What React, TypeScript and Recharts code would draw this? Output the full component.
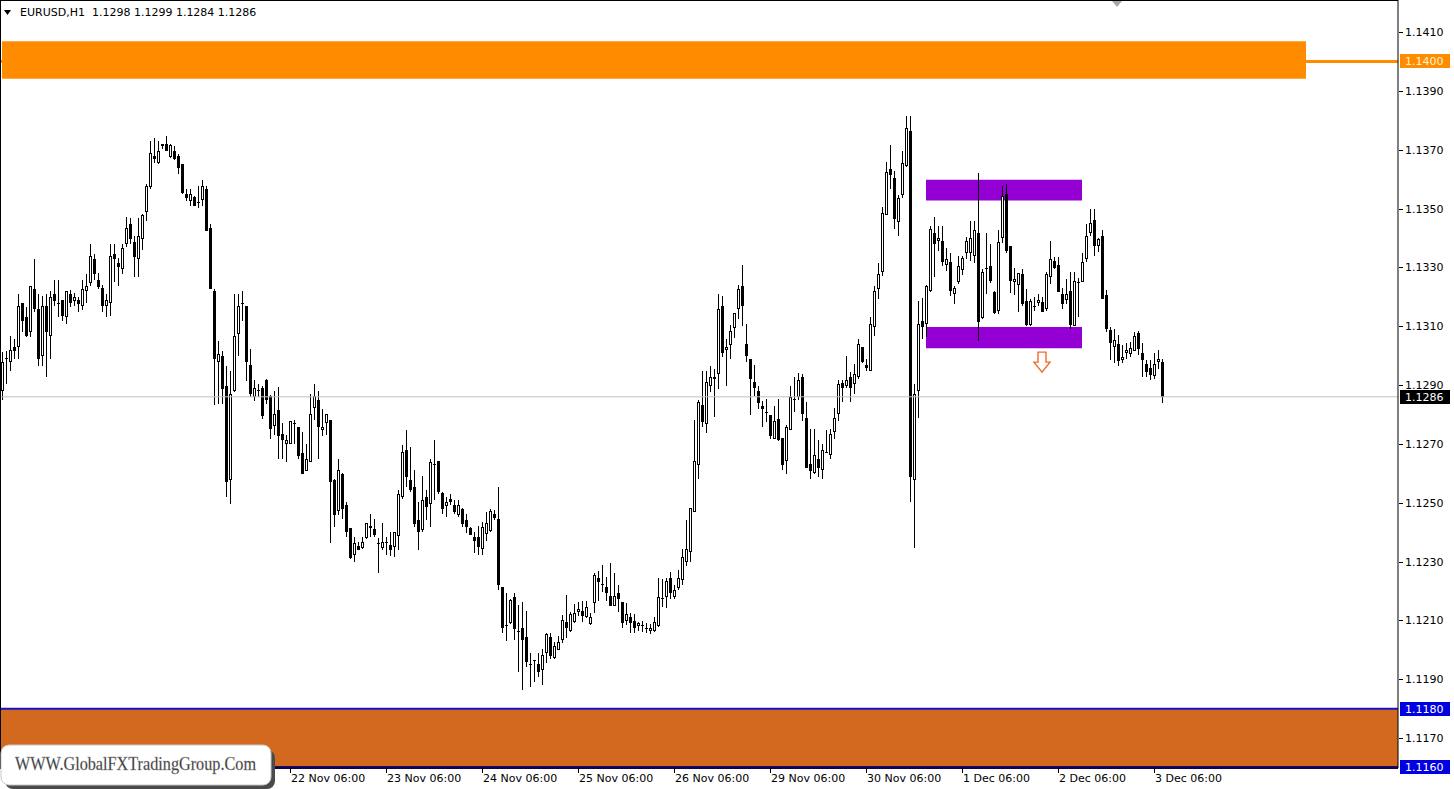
import React from 'react';
import {
  ComposedChart,
  Bar,
  XAxis,
  YAxis,
  ReferenceArea,
  ReferenceLine,
  ReferenceDot,
} from 'recharts';

// EURUSD H1 candles, one per hour (index 0 = left edge)
const openPrices = [
  1.12881, 1.1299, 1.12977, 1.13031, 1.13031, 1.13178, 1.1313, 1.13079, 1.13226, 1.13158,
  1.12999, 1.13169, 1.13068, 1.13209, 1.13178, 1.13189, 1.1313, 1.13209, 1.13186, 1.13189,
  1.13169, 1.13219, 1.13246, 1.13329, 1.13258, 1.1323, 1.13169, 1.13178, 1.13346, 1.13315,
  1.13294, 1.13379, 1.13447, 1.13386, 1.13328, 1.13396, 1.13488, 1.13573, 1.13678, 1.13655,
  1.13712, 1.13719, 1.13675, 1.13697, 1.13679, 1.1365, 1.13551, 1.13526, 1.13539, 1.1352,
  1.1353, 1.13565, 1.13435, 1.1322, 1.12977, 1.12999, 1.12898, 1.12576, 1.12881, 1.13075,
  1.13178, 1.13169, 1.12969, 1.12859, 1.12881, 1.1289, 1.12918, 1.12864, 1.1276, 1.12814,
  1.12735, 1.12701, 1.12701, 1.1277, 1.12756, 1.12668, 1.12609, 1.12638, 1.12822, 1.1285,
  1.12748, 1.1277, 1.1278, 1.12578, 1.12472, 1.12598, 1.12492, 1.12413, 1.12322, 1.12353,
  1.12346, 1.12379, 1.12413, 1.1241, 1.12362, 1.12346, 1.12365, 1.12356, 1.12349, 1.12387,
  1.1252, 1.1268, 1.12578, 1.12553, 1.12441, 1.12407, 1.1252, 1.12495, 1.1263, 1.12641,
  1.12534, 1.12488, 1.12514, 1.12492, 1.12458, 1.1248, 1.12441, 1.12413, 1.12384, 1.12384,
  1.12342, 1.12395, 1.12404, 1.1246, 1.12443, 1.12214, 1.12084, 1.1209, 1.12181, 1.12063,
  1.12073, 1.12043, 1.11953, 1.11964, 1.11952, 1.11932, 1.1199, 1.12043, 1.11972, 1.12,
  1.12032, 1.12093, 1.12063, 1.12093, 1.12128, 1.12132, 1.12113, 1.12089, 1.12158, 1.12245,
  1.12223, 1.12214, 1.12184, 1.1215, 1.12192, 1.12162, 1.12098, 1.1211, 1.12098, 1.12082,
  1.12085, 1.12073, 1.12064, 1.12064, 1.12082, 1.12176, 1.12181, 1.12243, 1.12181, 1.12209,
  1.12236, 1.123, 1.12331, 1.12469, 1.12627, 1.12833, 1.12768, 1.12898, 1.12919, 1.12936,
  1.13169, 1.1302, 1.13036, 1.13095, 1.13158, 1.13237, 1.1304, 1.12989, 1.12911, 1.12881,
  1.1283, 1.12808, 1.12797, 1.12717, 1.12786, 1.12719, 1.12641, 1.12747, 1.1285, 1.12861,
  1.12929, 1.12789, 1.1263, 1.126, 1.12649, 1.1261, 1.12672, 1.12661, 1.1274, 1.128,
  1.12906, 1.12898, 1.12926, 1.12902, 1.12929, 1.13029, 1.12969, 1.12948, 1.13097, 1.13226,
  1.13284, 1.13478, 1.13636, 1.13603, 1.13455, 1.13546, 1.13644, 1.13762, 1.12578, 1.12879,
  1.13119, 1.13106, 1.13218, 1.13418, 1.1339, 1.1339, 1.13307, 1.13317, 1.13209, 1.13249,
  1.13292, 1.13348, 1.13348, 1.1334, 1.13418, 1.13127, 1.13297, 1.13306, 1.13217, 1.13153,
  1.13401, 1.1355, 1.13373, 1.1325, 1.1324, 1.13278, 1.13184, 1.13103, 1.1317, 1.1318,
  1.13183, 1.13158, 1.13266, 1.1332, 1.13307, 1.13209, 1.13189, 1.13218, 1.13102, 1.1325,
  1.1325, 1.13327, 1.13418, 1.1346, 1.13373, 1.13407, 1.13205, 1.13087, 1.13029, 1.13038,
  1.12985, 1.13008, 1.13005, 1.13016, 1.13077, 1.13008, 1.12972, 1.12958, 1.12931, 1.12977,
  1.1298,
];

const highPrices = [
  1.13011, 1.13017, 1.13068, 1.13055, 1.13209, 1.1318, 1.13164, 1.13236, 1.13327, 1.13209,
  1.13202, 1.13209, 1.13219, 1.13257, 1.13257, 1.1319, 1.1322, 1.13223, 1.13212, 1.13198,
  1.13257, 1.13278, 1.13379, 1.13346, 1.1328, 1.13239, 1.13209, 1.13379, 1.13381, 1.13332,
  1.13379, 1.13471, 1.13467, 1.13407, 1.13467, 1.13483, 1.13583, 1.13729, 1.1374, 1.13729,
  1.13719, 1.13745, 1.13721, 1.13712, 1.13686, 1.13651, 1.13565, 1.13565, 1.13541, 1.13576,
  1.13596, 1.13576, 1.13447, 1.13226, 1.1305, 1.13017, 1.12966, 1.12949, 1.13209, 1.13209,
  1.1322, 1.1317, 1.13023, 1.12918, 1.12904, 1.12898, 1.1292, 1.12865, 1.12881, 1.12893,
  1.12771, 1.12729, 1.12778, 1.12781, 1.12757, 1.1274, 1.127, 1.1287, 1.12902, 1.12881,
  1.12819, 1.12801, 1.12781, 1.1258, 1.1265, 1.126, 1.12503, 1.12414, 1.12384, 1.12367,
  1.12384, 1.12432, 1.12463, 1.12446, 1.12379, 1.1243, 1.12384, 1.12401, 1.12401, 1.12542,
  1.12695, 1.12748, 1.12689, 1.1261, 1.12503, 1.1259, 1.12542, 1.1265, 1.12712, 1.12642,
  1.12535, 1.1252, 1.12531, 1.12508, 1.12508, 1.12482, 1.12463, 1.12416, 1.12401, 1.1242,
  1.12435, 1.12469, 1.1248, 1.12475, 1.12553, 1.12215, 1.12192, 1.12172, 1.12192, 1.12152,
  1.12163, 1.12133, 1.11989, 1.11966, 1.11989, 1.12002, 1.12058, 1.12056, 1.12027, 1.12047,
  1.12118, 1.12186, 1.1213, 1.12155, 1.12162, 1.12165, 1.12165, 1.12124, 1.1226, 1.12268,
  1.12287, 1.12248, 1.12294, 1.1226, 1.1222, 1.12163, 1.1216, 1.12124, 1.12121, 1.12096,
  1.12099, 1.1209, 1.12087, 1.12113, 1.12245, 1.1224, 1.12245, 1.12266, 1.1222, 1.12271,
  1.12342, 1.12441, 1.12483, 1.1278, 1.12848, 1.12949, 1.12949, 1.12966, 1.12955, 1.13209,
  1.13203, 1.13056, 1.13104, 1.13146, 1.1324, 1.13307, 1.13108, 1.1299, 1.12968, 1.12898,
  1.12847, 1.12851, 1.12798, 1.1283, 1.12851, 1.1272, 1.12763, 1.12898, 1.12929, 1.1294,
  1.12938, 1.12842, 1.12751, 1.12751, 1.12712, 1.127, 1.12748, 1.12752, 1.12823, 1.12918,
  1.12918, 1.12999, 1.12946, 1.12972, 1.13056, 1.1303, 1.12989, 1.13131, 1.13237, 1.13316,
  1.13505, 1.13659, 1.13715, 1.13626, 1.13547, 1.13697, 1.13814, 1.13814, 1.12904, 1.13186,
  1.13197, 1.1324, 1.1344, 1.13471, 1.1344, 1.1344, 1.13365, 1.13348, 1.13237, 1.13338,
  1.13339, 1.13404, 1.13456, 1.13456, 1.13621, 1.13296, 1.13418, 1.13381, 1.13218, 1.13428,
  1.13576, 1.13584, 1.13374, 1.13297, 1.13281, 1.13294, 1.13226, 1.13192, 1.13198, 1.13211,
  1.13198, 1.13285, 1.13388, 1.13334, 1.13334, 1.13229, 1.1326, 1.13285, 1.13285, 1.13263,
  1.13348, 1.13449, 1.13498, 1.135, 1.134, 1.13428, 1.13224, 1.13098, 1.1309, 1.13069,
  1.13036, 1.13042, 1.13048, 1.13079, 1.13085, 1.13043, 1.12985, 1.12986, 1.13009, 1.13019,
  1.1299,
];

const lowPrices = [
  1.1285, 1.12905, 1.12949, 1.1299, 1.12989, 1.13079, 1.13062, 1.13062, 1.13147, 1.12966,
  1.12966, 1.12926, 1.1299, 1.13169, 1.1313, 1.13116, 1.13108, 1.13164, 1.13169, 1.13147,
  1.13155, 1.13178, 1.13237, 1.13257, 1.13226, 1.13147, 1.1313, 1.13136, 1.13249, 1.13237,
  1.13276, 1.13368, 1.13379, 1.13268, 1.13266, 1.13358, 1.13459, 1.13567, 1.13655, 1.1365,
  1.13704, 1.13696, 1.13673, 1.13664, 1.13616, 1.1355, 1.13526, 1.13509, 1.13508, 1.13503,
  1.13509, 1.13423, 1.13225, 1.12831, 1.12836, 1.12836, 1.12519, 1.12497, 1.12876, 1.12999,
  1.13116, 1.12915, 1.12859, 1.12847, 1.12859, 1.12785, 1.12836, 1.12715, 1.1273, 1.1265,
  1.1265, 1.12638, 1.12699, 1.12701, 1.12649, 1.12597, 1.12608, 1.12637, 1.12782, 1.1265,
  1.12726, 1.12729, 1.12362, 1.12418, 1.12458, 1.12446, 1.12384, 1.1231, 1.12299, 1.12339,
  1.12343, 1.12378, 1.12383, 1.12384, 1.1226, 1.12339, 1.12322, 1.12319, 1.12316, 1.12339,
  1.12514, 1.12553, 1.12537, 1.12418, 1.12339, 1.12401, 1.12441, 1.12418, 1.12508, 1.12531,
  1.12463, 1.12452, 1.12491, 1.12463, 1.12452, 1.12418, 1.12398, 1.12389, 1.12328, 1.12322,
  1.12322, 1.1237, 1.12401, 1.12441, 1.12203, 1.12056, 1.1203, 1.12089, 1.12033, 1.11923,
  1.11864, 1.11943, 1.11873, 1.11892, 1.11909, 1.11881, 1.11954, 1.11968, 1.11968, 1.11999,
  1.12024, 1.1204, 1.12062, 1.12092, 1.12115, 1.12093, 1.12109, 1.12084, 1.12124, 1.12165,
  1.12196, 1.12165, 1.12149, 1.12149, 1.12127, 1.12073, 1.12085, 1.12056, 1.12056, 1.12064,
  1.12062, 1.12056, 1.12053, 1.12062, 1.12079, 1.12144, 1.12143, 1.12173, 1.12173, 1.12203,
  1.1222, 1.12284, 1.123, 1.12468, 1.1258, 1.12757, 1.12737, 1.12875, 1.1279, 1.12885,
  1.12994, 1.12896, 1.12989, 1.13061, 1.13124, 1.131, 1.12977, 1.12797, 1.12862, 1.12818,
  1.12757, 1.12773, 1.12717, 1.12716, 1.12711, 1.1261, 1.12598, 1.12746, 1.12808, 1.1285,
  1.12777, 1.12618, 1.12579, 1.12597, 1.12588, 1.12579, 1.12669, 1.1265, 1.12718, 1.12777,
  1.12842, 1.1289, 1.12842, 1.1287, 1.12921, 1.12976, 1.12947, 1.12947, 1.13068, 1.13192,
  1.13271, 1.13477, 1.13565, 1.13431, 1.13406, 1.13536, 1.13641, 1.12502, 1.12345, 1.12789,
  1.13058, 1.13062, 1.13215, 1.13266, 1.13356, 1.13306, 1.13287, 1.13204, 1.13174, 1.13243,
  1.13273, 1.13327, 1.13323, 1.13314, 1.13051, 1.13126, 1.13208, 1.13248, 1.13142, 1.13142,
  1.13384, 1.1335, 1.13213, 1.13205, 1.13149, 1.13168, 1.131, 1.13102, 1.13152, 1.13169,
  1.13148, 1.13152, 1.13243, 1.13294, 1.13216, 1.13158, 1.13177, 1.13089, 1.131, 1.1313,
  1.13249, 1.13317, 1.13407, 1.1334, 1.13353, 1.13192, 1.13081, 1.12986, 1.12975, 1.12965,
  1.12975, 1.12989, 1.12995, 1.13015, 1.13003, 1.12929, 1.12929, 1.12916, 1.12921, 1.12955,
  1.1284,
];

const closePrices = [
  1.12977, 1.12992, 1.13019, 1.13017, 1.13169, 1.13116, 1.13068, 1.13235, 1.13158, 1.12989,
  1.13169, 1.13079, 1.13199, 1.13186, 1.1318, 1.13136, 1.13219, 1.13178, 1.13199, 1.13177,
  1.13226, 1.13237, 1.13339, 1.13276, 1.13233, 1.13168, 1.13189, 1.13339, 1.13327, 1.13302,
  1.13366, 1.13435, 1.13396, 1.13336, 1.13407, 1.13478, 1.13578, 1.13689, 1.13667, 1.13697,
  1.13719, 1.13697, 1.13715, 1.13667, 1.13638, 1.13554, 1.13537, 1.13551, 1.13509, 1.13522,
  1.13578, 1.13424, 1.13226, 1.12989, 1.13007, 1.12886, 1.1257, 1.1287, 1.13068, 1.13169,
  1.1318, 1.12977, 1.12868, 1.1289, 1.12882, 1.12796, 1.12848, 1.12749, 1.12803, 1.12726,
  1.12712, 1.12712, 1.12777, 1.12768, 1.1266, 1.12598, 1.12649, 1.128, 1.12864, 1.12757,
  1.12758, 1.128, 1.12571, 1.12458, 1.1261, 1.1248, 1.12401, 1.12311, 1.12362, 1.12341,
  1.12367, 1.12431, 1.1242, 1.1239, 1.1236, 1.12367, 1.12363, 1.12339, 1.124, 1.12531,
  1.12672, 1.12587, 1.12542, 1.12429, 1.12401, 1.12509, 1.12486, 1.12638, 1.12633, 1.12537,
  1.1248, 1.12503, 1.12503, 1.12469, 1.12492, 1.12427, 1.12416, 1.1239, 1.1237, 1.1235,
  1.12418, 1.12431, 1.12472, 1.12449, 1.1222, 1.12073, 1.12082, 1.12171, 1.1207, 1.12062,
  1.12032, 1.1196, 1.11952, 1.11961, 1.11926, 1.11983, 1.12053, 1.1198, 1.12013, 1.12025,
  1.12102, 1.12073, 1.12122, 1.12124, 1.1214, 1.12116, 1.12144, 1.12112, 1.12254, 1.12229,
  1.1222, 1.12192, 1.1215, 1.12184, 1.12173, 1.1209, 1.12121, 1.1209, 1.12073, 1.1209,
  1.12084, 1.12072, 1.12073, 1.12093, 1.12181, 1.12175, 1.12234, 1.12192, 1.12204, 1.12243,
  1.12317, 1.12342, 1.12482, 1.12641, 1.12841, 1.12776, 1.12912, 1.12929, 1.12929, 1.13159,
  1.13009, 1.13031, 1.13085, 1.13145, 1.13228, 1.13169, 1.13, 1.12919, 1.12889, 1.1284,
  1.12819, 1.12806, 1.12726, 1.12777, 1.12712, 1.12629, 1.12756, 1.12861, 1.12851, 1.12917,
  1.128, 1.12619, 1.12608, 1.12661, 1.12619, 1.1268, 1.1267, 1.12732, 1.12789, 1.12902,
  1.1289, 1.12917, 1.1289, 1.12938, 1.1304, 1.12977, 1.12958, 1.13108, 1.1322, 1.13277,
  1.13486, 1.13624, 1.13613, 1.13463, 1.13536, 1.13655, 1.13773, 1.12587, 1.1287, 1.13109,
  1.13096, 1.13237, 1.13429, 1.13381, 1.13401, 1.13317, 1.13327, 1.13218, 1.13229, 1.13306,
  1.13331, 1.1339, 1.13401, 1.13428, 1.13113, 1.13285, 1.13296, 1.13252, 1.13145, 1.13387,
  1.13542, 1.13356, 1.13253, 1.1326, 1.1328, 1.13174, 1.13105, 1.13184, 1.13169, 1.13189,
  1.13149, 1.13277, 1.13328, 1.13298, 1.13217, 1.13177, 1.13209, 1.13105, 1.13254, 1.13248,
  1.13317, 1.13406, 1.13452, 1.13373, 1.13396, 1.13193, 1.13089, 1.13042, 1.13052, 1.12982,
  1.12996, 1.1302, 1.13025, 1.13068, 1.13023, 1.12985, 1.12946, 1.12935, 1.12972, 1.12988,
  1.1286,
];

// time axis: bar index of each visible "DD Mon 06:00" label
const dayTicks = [72, 96, 120, 144, 168, 192, 216, 240, 264, 288];
const dayLabels = [
  '22 Nov 06:00', '23 Nov 06:00', '24 Nov 06:00', '25 Nov 06:00', '26 Nov 06:00',
  '29 Nov 06:00', '30 Nov 06:00', '1 Dec 06:00', '2 Dec 06:00', '3 Dec 06:00',
];
const priceTicks = [1.117, 1.119, 1.121, 1.123, 1.125, 1.127, 1.129, 1.131, 1.133, 1.135, 1.137, 1.139, 1.141];

const symbolName = 'EURUSD,H1';
const lastOhlc = [1.1298, 1.1299, 1.1284, 1.1286];

// drawn objects
const resistanceZone = [1.13941, 1.14069];
const resistanceLevel = 1.14;
const supportZone = [1.116, 1.118];
const rangeHigh = [1.13527, 1.13598];
const rangeLow = [1.13025, 1.13097];
const rangeBars = [231, 270];
const resistanceEndBar = 326;
const signalBar = 260;
const signalPrice = 1.12978;
const bidPrice = 1.1286;

const X_DOMAIN: [number, number] = [-0.5, 349];
const Y_DOMAIN: [number, number] = [1.115983, 1.142088];
const PLOT_W = 1398;
const PLOT_H = 768;
const AXIS_FONT = '"DejaVu Sans", Tahoma, sans-serif';

const candles = openPrices.map((open, i) => {
  const close = closePrices[i];
  return {
    i,
    open,
    close,
    high: Math.max(highPrices[i], open, close),
    low: Math.min(lowPrices[i], open, close),
  };
});

const Candle = (props: any) => {
  const { x, y, width, height, payload } = props;
  if (x == null || !payload) return null;
  const top = Math.min(y, y + height);
  const h = Math.abs(height);
  const { open, close, high, low } = payload;
  const span = high - low || 1e-9;
  const py = (p: number) => top + ((high - p) / span) * h;
  const cx = Math.round(x + width / 2);
  const yo = py(open);
  const yc = py(close);
  const bTop = Math.round(Math.min(yo, yc));
  const bBot = Math.round(Math.max(yo, yc));
  const wTop = Math.round(top);
  const wBot = Math.max(Math.round(top + h), wTop + 1);
  const up = close >= open;
  let body;
  if (bBot - bTop < 2) {
    body = <line x1={cx - 1} x2={cx + 2} y1={bTop + 0.5} y2={bTop + 0.5} stroke="#000" />;
  } else if (up) {
    body = (
      <rect x={cx - 0.5} y={bTop + 0.5} width={2} height={bBot - bTop - 1} fill="#fff" stroke="#000" strokeWidth={1} />
    );
  } else {
    body = <rect x={cx - 1} y={bTop} width={3} height={bBot - bTop} fill="#000" />;
  }
  return (
    <g>
      <line x1={cx + 0.5} x2={cx + 0.5} y1={wTop} y2={wBot} stroke="#000" />
      {body}
    </g>
  );
};

const TimeTick = (props: any) => {
  const { x, payload } = props;
  const label = dayLabels[dayTicks.indexOf(payload.value)];
  return (
    <g>
      <line x1={x + 0.5} x2={x + 0.5} y1={PLOT_H} y2={PLOT_H + 5} stroke="#000" />
      <text x={x + 1} y={PLOT_H + 14} fontSize={11} fontFamily={AXIS_FONT} fill="#000" textAnchor="start">
        {label}
      </text>
    </g>
  );
};

const PriceTick = (props: any) => {
  const { y, payload } = props;
  return (
    <g>
      <line x1={PLOT_W + 1} x2={PLOT_W + 5} y1={Math.round(y) + 0.5} y2={Math.round(y) + 0.5} stroke="#000" />
      <text x={PLOT_W + 7} y={y + 4} fontSize={11} fontFamily={AXIS_FONT} fill="#000" textAnchor="start">
        {payload.value.toFixed(4)}
      </text>
    </g>
  );
};

const priceTag = (value: number, bg: string, fg: string) => (props: any) => {
  const { cx, cy } = props;
  if (cx == null || cy == null) return <g />;
  return (
    <g>
      <rect x={cx + 2} y={Math.round(cy) - 7} width={50} height={14} fill={bg} />
      <text x={cx + 7} y={Math.round(cy) + 4} fontSize={11} fontFamily={AXIS_FONT} fill={fg}>
        {value.toFixed(4)}
      </text>
    </g>
  );
};

const SignalArrow = (props: any) => {
  const { cx, cy } = props;
  if (cx == null || cy == null) return <g />;
  const d = `M${cx - 4} ${cy - 10} L${cx + 4} ${cy - 10} L${cx + 4} ${cy} L${cx + 8} ${cy} L${cx} ${cy + 10} L${cx - 8} ${cy} L${cx - 4} ${cy} Z`;
  return <path d={d} fill="#fff" stroke="#F26B2A" strokeWidth={1.4} />;
};

export default function App() {
  return (
    <div style={{ position: 'absolute', left: 0, top: 0, width: 1454, height: 789, background: '#fff', overflow: 'hidden' }}>
      <ComposedChart width={1454} height={789} data={candles} margin={{ top: 0, right: 0, bottom: 0, left: 0 }}>
        <XAxis
          dataKey="i"
          type="number"
          domain={X_DOMAIN}
          allowDataOverflow
          ticks={dayTicks}
          interval={0}
          height={21}
          axisLine={{ stroke: '#000' }}
          tickLine={false}
          tick={<TimeTick />}
        />
        <YAxis
          orientation="right"
          type="number"
          domain={Y_DOMAIN}
          allowDataOverflow
          ticks={priceTicks}
          interval={0}
          width={56}
          axisLine={{ stroke: '#000' }}
          tickLine={false}
          tick={<PriceTick />}
        />
        <ReferenceArea x1={X_DOMAIN[0]} x2={X_DOMAIN[1]} y1={supportZone[0]} y2={supportZone[1]} fill="#D2691E" fillOpacity={1} stroke="none" />
        <ReferenceLine y={resistanceLevel} stroke="#FF8C00" strokeWidth={3} />
        <ReferenceArea x1={0} x2={resistanceEndBar} y1={resistanceZone[0]} y2={resistanceZone[1]} fill="#FF8C00" fillOpacity={1} stroke="none" />
        <ReferenceArea x1={rangeBars[0]} x2={rangeBars[1]} y1={rangeHigh[0]} y2={rangeHigh[1]} fill="#9400D3" fillOpacity={1} stroke="none" />
        <ReferenceArea x1={rangeBars[0]} x2={rangeBars[1]} y1={rangeLow[0]} y2={rangeLow[1]} fill="#9400D3" fillOpacity={1} stroke="none" />
        <ReferenceLine y={bidPrice} stroke="#C0C0C0" strokeWidth={1} />
        <ReferenceLine y={supportZone[1]} stroke="#1414C8" strokeWidth={2} />
        <ReferenceLine y={supportZone[0]} stroke="#1a0a80" strokeWidth={3} />
        <Bar dataKey={(d: any) => [d.low, d.high]} shape={Candle} barSize={4} isAnimationActive={false} />
        <ReferenceDot x={signalBar} y={signalPrice} r={8} shape={SignalArrow} />
        <ReferenceDot x={X_DOMAIN[1]} y={resistanceLevel} r={1} shape={priceTag(resistanceLevel, '#FF8C00', '#FFF1D0')} />
        <ReferenceDot x={X_DOMAIN[1]} y={bidPrice} r={1} shape={priceTag(bidPrice, '#000', '#fff')} />
        <ReferenceDot x={X_DOMAIN[1]} y={supportZone[1]} r={1} shape={priceTag(supportZone[1], '#0000E0', '#fff')} />
        <ReferenceDot x={X_DOMAIN[1]} y={supportZone[0]} r={1} shape={priceTag(supportZone[0], '#0000E0', '#fff')} />
      </ComposedChart>
      <svg width={1454} height={789} style={{ position: 'absolute', left: 0, top: 0, pointerEvents: 'none' }}>
        <line x1={0} x2={PLOT_W} y1={0.5} y2={0.5} stroke="#000" />
        <line x1={0.5} x2={0.5} y1={0} y2={PLOT_H} stroke="#000" />
        <path d="M1112 1 L1122 1 L1117 7 Z" fill="#A8A8A8" />
        <path d="M4 10 L11 10 L7.5 15 Z" fill="#000" />
        <text x={20} y={16} fontSize={11} fontFamily={AXIS_FONT} fill="#000" xmlSpace="preserve">
          {`${symbolName}  ${lastOhlc.map((v) => v.toFixed(4)).join(' ')}`}
        </text>
        <rect x={5} y={750} width={270} height={39} rx={8} fill="#4a4a4a" />
        <rect x={1} y={745} width={270} height={40} rx={8} fill="#fff" stroke="#c8c8c8" />
        <text x={15} y={770} fontSize={18} fontFamily='"Liberation Serif", "DejaVu Serif", serif' fill="#333" stroke="#999" strokeWidth={0.3} textLength={241} lengthAdjust="spacingAndGlyphs">
          WWW.GlobalFXTradingGroup.Com
        </text>
      </svg>
    </div>
  );
}
